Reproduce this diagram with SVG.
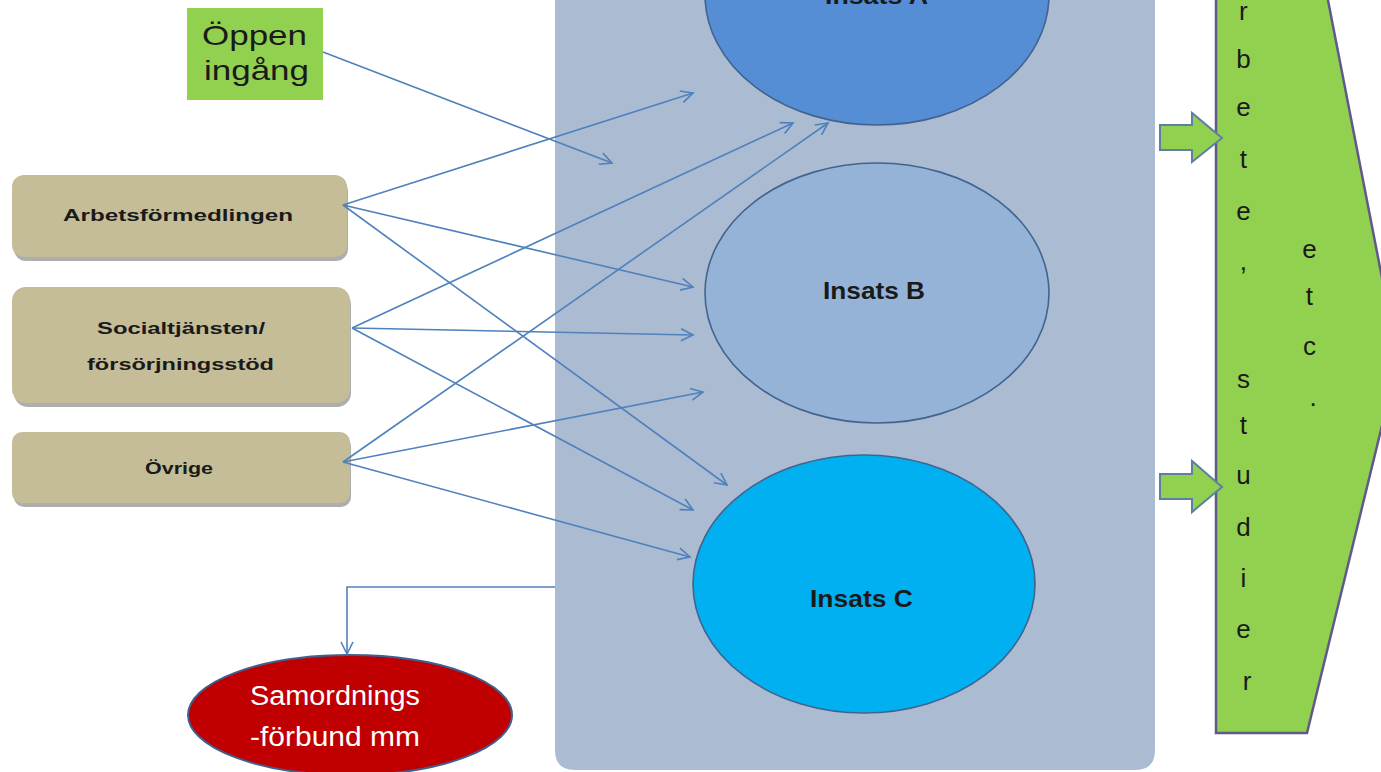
<svg xmlns="http://www.w3.org/2000/svg" width="1381" height="772" viewBox="0 0 1381 772">
<style>
.txt{font-family:"Liberation Sans",Arial,sans-serif;fill:#1a1a1a}
.tan{fill:#C4BD97}
.shadow{fill:#9a9a9a;opacity:0.8}
.lbl{font-size:17px;font-weight:bold;text-anchor:start}
.ins{font-size:24px;font-weight:bold}
.conn{stroke:#4F81BD;stroke-width:1.6;fill:none;marker-end:url(#arr)}
.ell{stroke:#41648F;stroke-width:1.6}
.vert{font-size:26px;text-anchor:middle}
.blk{fill:#92D050;stroke:#5E7FA3;stroke-width:2}
</style>
<defs>
<marker id="arr" markerUnits="userSpaceOnUse" markerWidth="16" markerHeight="16" refX="13" refY="7" orient="auto">
<path d="M1,1 L13,7 L1,13" fill="none" stroke="#4F81BD" stroke-width="1.6"/>
</marker>
</defs>
<rect width="1381" height="772" fill="#ffffff"/>

<g id="panel">
<path d="M555,-10 L1155,-10 L1155,750 Q1155,770 1135,770 L575,770 Q555,770 555,750 Z" fill="#ABBBD1"/>
</g>

<g id="insatsA">
<ellipse class="ell" cx="877" cy="-5" rx="172" ry="130" fill="#558ED5"/>
<text class="txt ins" x="825" y="4" textLength="103" lengthAdjust="spacingAndGlyphs">Insats A</text>
</g>
<g id="insatsB">
<ellipse class="ell" cx="877" cy="293" rx="172" ry="130" fill="#95B3D7"/>
<text class="txt ins" x="823" y="299" textLength="102" lengthAdjust="spacingAndGlyphs">Insats B</text>
</g>
<g id="insatsC">
<ellipse class="ell" cx="864" cy="584" rx="171" ry="129" fill="#00B0F0"/>
<text class="txt ins" x="810" y="607" textLength="103" lengthAdjust="spacingAndGlyphs">Insats C</text>
</g>

<g id="oppen">
<rect x="187" y="8" width="136" height="92" fill="#92D050"/>
<text class="txt" x="202" y="45" font-size="28" textLength="105" lengthAdjust="spacingAndGlyphs">Öppen</text>
<text class="txt" x="204" y="80" font-size="28" textLength="105" lengthAdjust="spacingAndGlyphs">ingång</text>
</g>

<g id="arbets">
<rect class="shadow" x="14" y="179" width="334" height="82" rx="12"/>
<rect class="tan" x="12" y="175" width="335" height="82" rx="12"/>
<text class="txt lbl" x="63" y="221" textLength="230" lengthAdjust="spacingAndGlyphs">Arbetsförmedlingen</text>
</g>
<g id="social">
<rect class="shadow" x="14" y="291" width="337" height="116" rx="14"/>
<rect class="tan" x="12" y="287" width="338" height="116" rx="14"/>
<text class="txt lbl" x="97" y="334" textLength="168" lengthAdjust="spacingAndGlyphs">Socialtjänsten/</text>
<text class="txt lbl" x="87" y="370" textLength="187" lengthAdjust="spacingAndGlyphs">försörjningsstöd</text>
</g>
<g id="ovrige">
<rect class="shadow" x="14" y="436" width="337" height="71" rx="10"/>
<rect class="tan" x="12" y="432" width="338" height="71" rx="10"/>
<text class="txt lbl" x="145" y="474" textLength="68" lengthAdjust="spacingAndGlyphs">Övrige</text>
</g>

<g id="samordnings">
<ellipse cx="350" cy="715" rx="162" ry="60" fill="#C00000" stroke="#3F5F8F" stroke-width="2"/>
<text x="250" y="705" font-family="Liberation Sans,Arial,sans-serif" font-size="27" fill="#ffffff" textLength="170" lengthAdjust="spacingAndGlyphs">Samordnings</text>
<text x="250" y="746" font-family="Liberation Sans,Arial,sans-serif" font-size="27" fill="#ffffff" textLength="170" lengthAdjust="spacingAndGlyphs">-förbund mm</text>
</g>

<g id="result">
<polygon points="1216,-10 1326,-10 1398,360 1307,733 1216,733" fill="#92D050" stroke="#5F5A8A" stroke-width="2.5"/>
<text class="txt vert">
<tspan x="1247" y="-36">A</tspan>
<tspan x="1247" y="20">r</tspan>
<tspan x="1247" y="68">b</tspan>
<tspan x="1247" y="116">e</tspan>
<tspan x="1247" y="168">t</tspan>
<tspan x="1247" y="220">e</tspan>
<tspan x="1247" y="270">,</tspan>
<tspan x="1247" y="388">s</tspan>
<tspan x="1247" y="434">t</tspan>
<tspan x="1247" y="484">u</tspan>
<tspan x="1247" y="536">d</tspan>
<tspan x="1247" y="587">i</tspan>
<tspan x="1247" y="638">e</tspan>
<tspan x="1247" y="690">r</tspan>
</text>
<text class="txt vert">
<tspan x="1313" y="258">e</tspan>
<tspan x="1313" y="305">t</tspan>
<tspan x="1313" y="355">c</tspan>
<tspan x="1313" y="406">.</tspan>
</text>
</g>

<g id="blockArrow1">
<polygon class="blk" points="1160,125 1192,125 1192,113 1222,138 1192,162 1192,150 1160,150"/>
</g>
<g id="blockArrow2">
<polygon class="blk" points="1160,474 1192,474 1192,461 1222,487 1192,512 1192,499 1160,499"/>
</g>

<g id="connectors">
<line class="conn" x1="323" y1="52" x2="612" y2="163"/>
<line class="conn" x1="343" y1="205" x2="693" y2="93"/>
<line class="conn" x1="343" y1="205" x2="693" y2="287"/>
<line class="conn" x1="343" y1="205" x2="727" y2="485"/>
<line class="conn" x1="352" y1="328" x2="793" y2="123"/>
<line class="conn" x1="352" y1="328" x2="693" y2="335"/>
<line class="conn" x1="352" y1="328" x2="693" y2="510"/>
<line class="conn" x1="343" y1="462" x2="828" y2="123"/>
<line class="conn" x1="343" y1="462" x2="703" y2="392"/>
<line class="conn" x1="343" y1="462" x2="690" y2="557"/>
<polyline class="conn" points="555,587 347,587 347,654"/>
</g>
</svg>
